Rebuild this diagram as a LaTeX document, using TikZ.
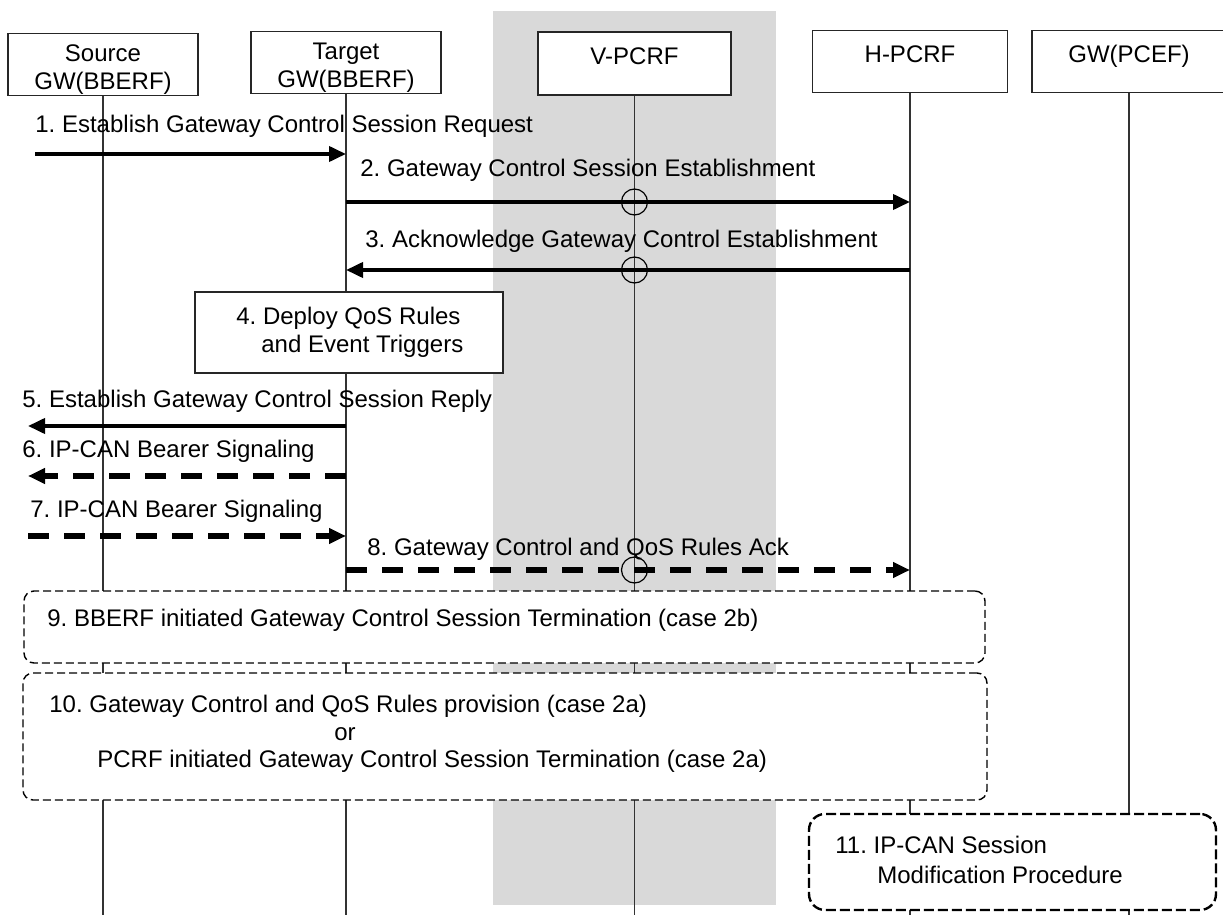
\documentclass[tikz,border=0pt]{standalone}
\usepackage{fontspec}
\setmainfont{Liberation Sans}
\usetikzlibrary{arrows.meta}
\definecolor{band}{RGB}{217,217,217}
\newcommand\stackedtext[2]{\begin{tabular}[t]{@{}c@{}}#1\\[1pt]#2\end{tabular}}
\frenchspacing

\begin{document}
\begin{tikzpicture}[x=0.5pt,y=-0.5pt,
  txt/.style={font=\fontsize{12pt}{13pt}\selectfont, inner sep=0pt, anchor=base west},
  ctxt/.style={txt, anchor=base},
  hdr/.style={draw=black!85, line width=0.6pt, fill=white, inner sep=0pt,
              minimum width=95pt, minimum height=31pt},
  life/.style={draw=black!80, line width=0.6pt},
  msg/.style={line width=1.9pt, -{Triangle[length=8.5pt,width=7.5pt]}},
  dmsg/.style={line width=2.7pt, dash pattern=on 10.5pt off 7.5pt,
               -{Triangle[length=8.5pt,width=7.5pt]}},
  xcirc/.style={circle, draw, line width=0.6pt, minimum size=13pt, inner sep=0pt},
  stepbox/.style={draw=black!85, line width=0.6pt, fill=white, inner sep=0pt},
  grp/.style={draw, fill=white, line width=0.7pt, dash pattern=on 4pt off 2pt,
              rounded corners=5pt, inner sep=0pt},
  proc/.style={draw, fill=white, line width=1.2pt, dash pattern=on 5pt off 2pt,
               rounded corners=8pt, inner sep=0pt},
]
\useasboundingbox (0,0) rectangle (1223,915);

% visited network band
\fill[band] (493,11) rectangle (776,905);

% entities
\node[hdr] (src)  at (103,64.5)  {};
\node[hdr] (tgt)  at (346,62.5)  {};
\node[hdr, minimum width=96.5pt, minimum height=31.5pt] (vp) at (634.5,63.5) {};
\node[hdr, minimum width=97.5pt] (hp)   at (910,61.5)  {};
\node[hdr, minimum width=97pt]   (pcef) at (1129,61.5) {};

\node[ctxt] (src-t)  at (103,62)   {\stackedtext{Source}{GW(BBERF)}};
\node[ctxt] (tgt-t)  at (346,60)   {\stackedtext{Target}{GW(BBERF)}};
\node[ctxt] (vp-t)   at (634.5,65) {V-PCRF};
\node[ctxt] (hp-t)   at (910,63)   {H-PCRF};
\node[ctxt] (pcef-t) at (1129,63)  {GW(PCEF)};

% lifelines
\coordinate (bottom) at (0,915);
\foreach \e in {src,tgt,vp,hp,pcef}
  \draw[life] (\e.south) -- (\e.south |- bottom);

% message rows
\coordinate (r1) at (35,154);
\coordinate (r2) at (0,202);
\coordinate (r3) at (0,270);
\coordinate (r5) at (28,426);
\coordinate (r6) at (28,476);
\coordinate (r7) at (28,536);
\coordinate (r8) at (0,570);

% step 4
\node[stepbox, minimum width=154pt, minimum height=40.5pt] (s4) at (349,332.5) {};
\node[txt] (s4-t1) at (236,325) {4. Deploy QoS Rules};
\node[txt] (s4-t2) at (261,352) {and Event Triggers};

% messages
\draw[msg]  (r1) -- (tgt |- r1);
\draw[msg]  (tgt |- r2) -- (hp |- r2);
\draw[msg]  (hp |- r3) -- (tgt |- r3);
\draw[msg]  (tgt |- r5) -- (r5);
\draw[dmsg] (tgt |- r6) -- (r6);
\draw[dmsg] (r7) -- (tgt |- r7);
\draw[dmsg] (tgt |- r8) -- (hp |- r8);

% crossings at the V-PCRF
\node[xcirc] (c2) at (vp |- r2) {};
\node[xcirc] (c3) at (vp |- r3) {};
\node[xcirc] (c8) at (vp |- r8) {};

% message labels
\node[txt] (l1) at (35,133)  {1. Establish Gateway Control Session Request};
\node[txt] (l2) at (360,177) {2. Gateway Control Session Establishment};
\node[txt] (l3) at (365,248) {3. Acknowledge Gateway Control Establishment};
\node[txt] (l5) at (22,408)  {5. Establish Gateway Control Session Reply};
\node[txt] (l6) at (22,458)  {6. IP-CAN Bearer Signaling};
\node[txt] (l7) at (30,517)  {7. IP-CAN Bearer Signaling};
\node[txt] (l8) at (367,555) {8. Gateway Control and QoS Rules Ack};

% procedures
\node[grp, minimum width=480.5pt, minimum height=36pt] (g9) at (504.5,627) {};
\node[txt] (g9-t) at (47,626) {9. BBERF initiated Gateway Control Session Termination (case 2b)};

\node[grp, minimum width=482pt, minimum height=63.5pt] (g10) at (505,736.5) {};
\node[txt]  (g10-t1) at (49,712)  {10. Gateway Control and QoS Rules provision (case 2a)};
\node[ctxt] (g10-t2) at (345,740) {or};
\node[txt]  (g10-t3) at (97,767)  {PCRF initiated Gateway Control Session Termination (case 2a)};

\node[proc, minimum width=203.5pt, minimum height=48pt] (p11) at (1012.5,862) {};
\node[txt] (p11-t1) at (835,853) {11. IP-CAN Session};
\node[txt] (p11-t2) at (877,883) {Modification Procedure};
\end{tikzpicture}
\end{document}
